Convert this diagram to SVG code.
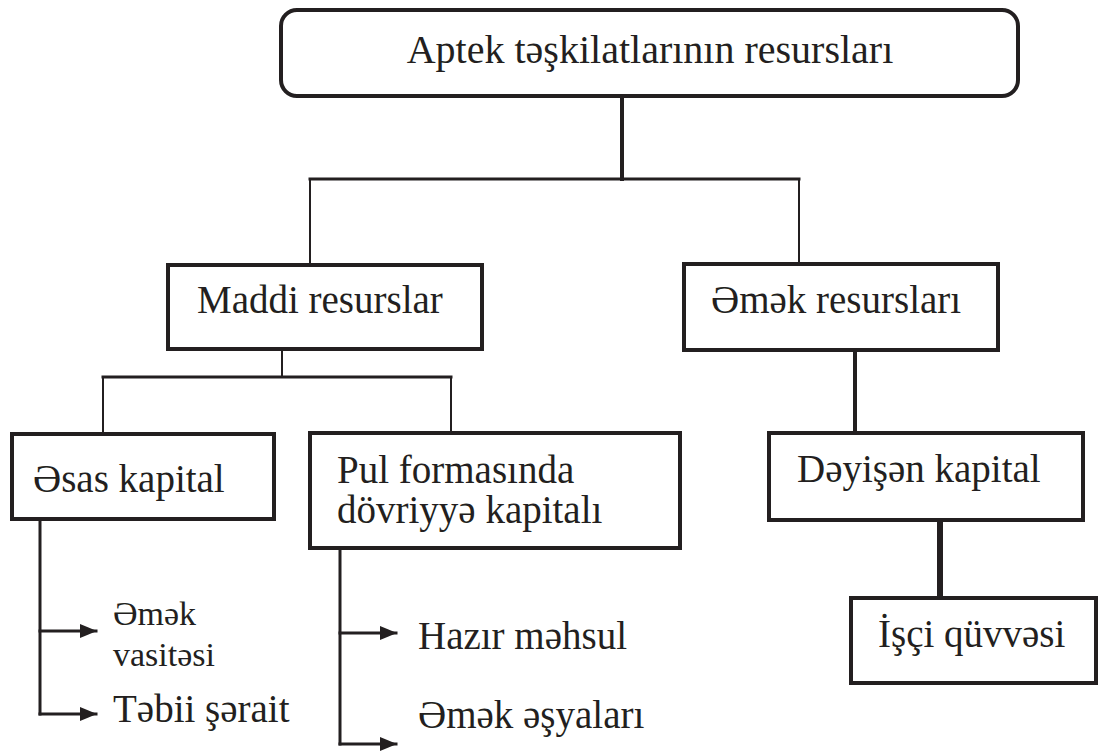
<svg xmlns="http://www.w3.org/2000/svg" width="1099" height="751" viewBox="0 0 1099 751">
<style>
text{font-family:"Liberation Serif","Times New Roman",serif;font-size:39px;fill:#231f20}
.sm{font-size:34px}
.box{fill:#fff;stroke:#231f20;stroke-width:4}
.ln{fill:none;stroke:#231f20;stroke-linecap:square}
</style>
<defs>
<marker id="ah" markerWidth="17" markerHeight="14" refX="16" refY="7" orient="auto" markerUnits="userSpaceOnUse">
<path d="M0,0 L17,7 L0,14 Z" fill="#231f20"/>
</marker>
</defs>
<rect width="1099" height="751" fill="#fff"/>
<g id="connectors">
<line class="ln" x1="622" y1="97" x2="622" y2="179" stroke-width="4"/>
<line class="ln" x1="310" y1="179" x2="799" y2="179" stroke-width="3"/>
<line class="ln" x1="310" y1="179" x2="310" y2="265" stroke-width="2"/>
<line class="ln" x1="799" y1="179" x2="799" y2="264" stroke-width="2"/>
<line class="ln" x1="282" y1="349" x2="282" y2="377" stroke-width="2"/>
<line class="ln" x1="103" y1="377" x2="451" y2="377" stroke-width="3"/>
<line class="ln" x1="103" y1="377" x2="103" y2="433" stroke-width="2"/>
<line class="ln" x1="451" y1="377" x2="451" y2="433" stroke-width="2"/>
<line class="ln" x1="855" y1="350" x2="855" y2="433" stroke-width="4"/>
<line class="ln" x1="940" y1="520" x2="940" y2="598" stroke-width="6"/>
<path class="ln" d="M40,519 V714" stroke-width="3"/>
<path class="ln" d="M40,631 H96" stroke-width="3" marker-end="url(#ah)"/>
<path class="ln" d="M40,714 H96" stroke-width="3" marker-end="url(#ah)"/>
<path class="ln" d="M340,548 V744" stroke-width="3"/>
<path class="ln" d="M340,633 H396" stroke-width="3" marker-end="url(#ah)"/>
<path class="ln" d="M340,744 H396" stroke-width="3" marker-end="url(#ah)"/>
</g>
<g id="root">
<rect class="box" x="281" y="10" width="737" height="86" rx="16"/>
<text x="650" y="63" text-anchor="middle" style="font-size:40px">Aptek təşkilatlarının resursları</text>
</g>
<g id="maddi">
<rect class="box" x="168" y="265" width="314" height="84"/>
<text x="197" y="313">Maddi resurslar</text>
</g>
<g id="emek">
<rect class="box" x="684" y="264" width="314" height="86"/>
<text x="711" y="313">Əmək resursları</text>
</g>
<g id="esas">
<rect class="box" x="12" y="434" width="262" height="85"/>
<text x="33" y="492">Əsas kapital</text>
</g>
<g id="pul">
<rect class="box" x="310" y="433" width="370" height="115"/>
<text x="337" y="483">Pul formasında</text>
<text x="337" y="523">dövriyyə kapitalı</text>
</g>
<g id="deyisen">
<rect class="box" x="769" y="433" width="314" height="87"/>
<text x="797" y="482">Dəyişən kapital</text>
</g>
<g id="isci">
<rect class="box" x="851" y="598" width="245" height="85"/>
<text x="878" y="647">İşçi qüvvəsi</text>
</g>
<g id="labels">
<text class="sm" x="113" y="625">Əmək</text>
<text class="sm" x="113" y="666">vasitəsi</text>
<text x="113" y="722">Təbii şərait</text>
<text x="418" y="649">Hazır məhsul</text>
<text x="418" y="728">Əmək əşyaları</text>
</g>
</svg>
